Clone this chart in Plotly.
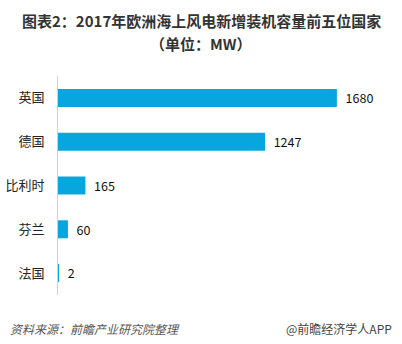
import plotly.graph_objects as go

# Offshore wind additions, 2017 (MW)
countries = ["英国", "德国", "比利时", "芬兰", "法国"]
capacity_mw = [1680, 1247, 165, 60, 2]

title_line1 = "图表2：2017年欧洲海上风电新增装机容量前五位国家"
title_line2 = "（单位：MW）"
source_text = "资料来源：前瞻产业研究院整理"
brand_text = "@前瞻经济学人APP"

cjk = "Noto Sans CJK SC, Microsoft YaHei, sans-serif"
bar_color = "#08A6DE"

W, H = 402, 344
left, right = 58, 12
top, bottom = 76, H - 295
plot_w = W - left - right
plot_h = H - top - bottom


def px_x(x):
    return (x - left) / plot_w


def px_y(y):
    return 1 - (y - top) / plot_h


fig = go.Figure(
    go.Bar(
        x=capacity_mw,
        y=countries,
        orientation="h",
        marker=dict(color=bar_color, line=dict(width=0)),
        width=0.41,
        texttemplate="  %{x}",
        textposition="outside",
        textfont=dict(family=cjk, size=14, color="#111111"),
        cliponaxis=False,
        hoverinfo="skip",
    )
)

fig.update_layout(
    width=W,
    height=H,
    margin=dict(l=left, r=right, t=top, b=bottom, pad=0, autoexpand=False),
    paper_bgcolor="white",
    plot_bgcolor="white",
    showlegend=False,
    xaxis=dict(
        range=[0, 2000],
        visible=False,
        fixedrange=True,
        automargin=False,
    ),
    yaxis=dict(
        categoryorder="array",
        categoryarray=countries[::-1],
        showline=True,
        linecolor="#C9D3E0",
        linewidth=1,
        showgrid=False,
        zeroline=False,
        ticks="",
        ticklabelstandoff=10,
        automargin=False,
        tickfont=dict(family=cjk, size=13, color="#222222"),
        fixedrange=True,
    ),
    annotations=[
        dict(
            text=f"<b>{title_line1}</b>",
            x=0.5, xref="paper", xanchor="center", xshift=-(left - right) / 2,
            y=px_y(20), yref="paper", yanchor="middle",
            showarrow=False,
            font=dict(family=cjk, size=15, color="#333333"),
        ),
        dict(
            text=f"<b>{title_line2}</b>",
            x=0.5, xref="paper", xanchor="center", xshift=-(left - right) / 2,
            y=px_y(43), yref="paper", yanchor="middle",
            showarrow=False,
            font=dict(family=cjk, size=15, color="#333333"),
        ),
        dict(
            text=f"<i>{source_text}</i>",
            x=px_x(8), xref="paper", xanchor="left",
            y=px_y(328), yref="paper", yanchor="middle",
            showarrow=False,
            font=dict(family=cjk, size=12, color="#555555"),
        ),
        dict(
            text=brand_text,
            x=px_x(394), xref="paper", xanchor="right",
            y=px_y(328), yref="paper", yanchor="middle",
            showarrow=False,
            font=dict(family=cjk, size=12, color="#444444"),
        ),
    ],
)

fig.write_html("out.html")
